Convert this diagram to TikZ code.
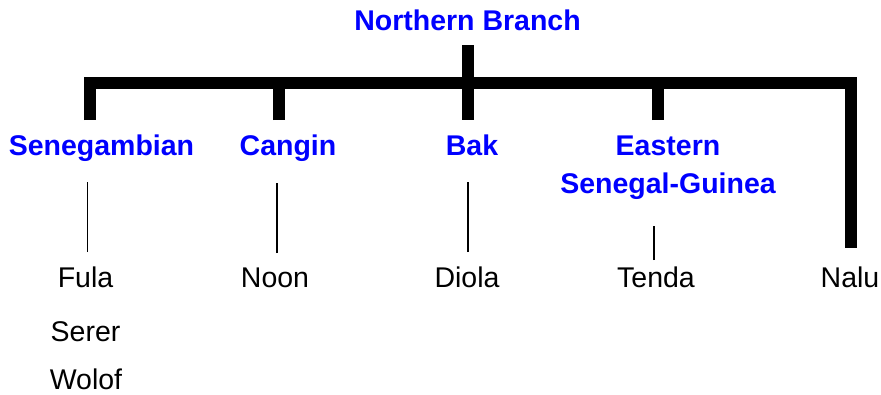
\documentclass[tikz,border=0pt]{standalone}
\usepackage{fontspec}
\setmainfont{Liberation Sans}
\begin{document}
\begin{tikzpicture}[x=1pt,y=-1pt,
        group/.style={anchor=base,inner sep=0pt,text=blue,align=center,font=\fontsize{28.5}{38}\selectfont\bfseries},
        lang/.style={anchor=base,inner sep=0pt,font=\fontsize{28.5}{34}\selectfont},
        trunk/.style={line width=12pt},
        twig/.style={line width=1.5pt}]
        \useasboundingbox (0,0) rectangle (881,394);
        % branch names
        \node[group] (north) at (467.5,30) {Northern Branch};
        \node[group] (seneg) at (101.5,155) {Senegambian};
        \node[group] (cangin) at (288,155) {Cangin};
        \node[group] (bak) at (472,155) {Bak};
        \node[group] (eastern) at (668,193) {Eastern\\Senegal-Guinea};
        % languages
        \node[lang] (fula) at (85.5,287) {Fula};
        \node[lang] (serer) at (85.5,341) {Serer};
        \node[lang] (wolof) at (86,389.5) {Wolof};
        \node[lang] (noon) at (275,287) {Noon};
        \node[lang] (diola) at (467,287) {Diola};
        \node[lang] (tenda) at (656,287) {Tenda};
        \node[lang] (nalu) at (850,287) {Nalu};
        % the thick tree
        \coordinate (root) at (468,45);
        \coordinate (bar) at (468,83);
        \coordinate (sgdrop) at (90,120);
        \coordinate (cgdrop) at (279,120);
        \coordinate (bkdrop) at (468,120);
        \coordinate (esdrop) at (658,120);
        \coordinate (nldrop) at (851,248);
        \draw[trunk] (sgdrop) -- (sgdrop |- bar) -- (bar -| nldrop) -- (nldrop);
        \draw[trunk] (root) -- (bkdrop);
        \draw[trunk] (cgdrop) -- (cgdrop |- bar);
        \draw[trunk] (esdrop) -- (esdrop |- bar);
        % thin links
        \draw[twig] ([xshift=2pt,yshift=14pt]fula.north) -- ([xshift=2pt,yshift=84pt]fula.north);
        \draw[twig] ([xshift=2pt,yshift=14pt]noon.north) -- ([xshift=2pt,yshift=84pt]noon.north);
        \draw[twig] ([xshift=1pt,yshift=14pt]diola.north) -- ([xshift=1pt,yshift=84pt]diola.north);
        \draw[twig] ([xshift=-2pt,yshift=6pt]tenda.north) -- ([xshift=-2pt,yshift=40pt]tenda.north);
\end{tikzpicture}
\end{document}
